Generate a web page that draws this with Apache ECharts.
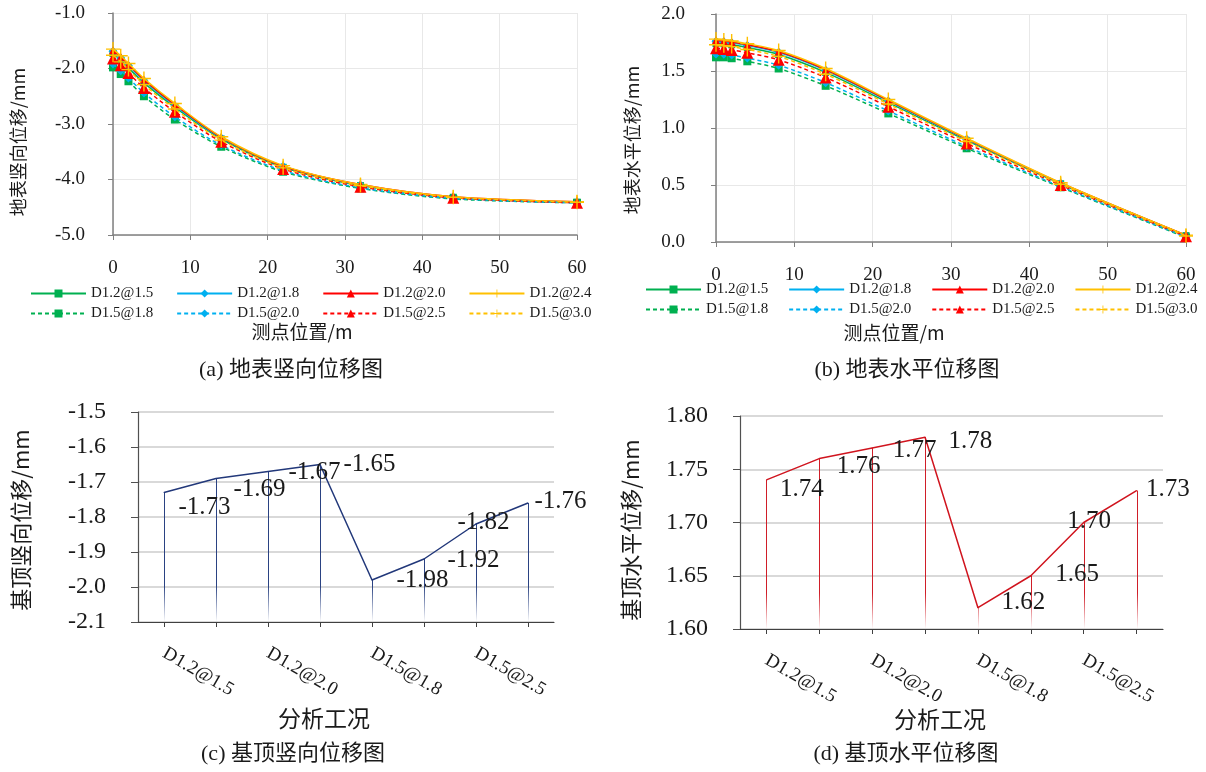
<!DOCTYPE html>
<html>
<head>
<meta charset="utf-8">
<script src="https://cdn.jsdelivr.net/npm/echarts@6/dist/echarts.min.js"></script>
<style>
  html, body { margin: 0; padding: 0; background: #fff; }
  #chart { width: 1206px; height: 772px; }
</style>
</head>
<body>
<div id="chart"></div>
<script>
// ---- data ----------------------------------------------------------------
// survey points behind the pit edge (m)
const stations = [0, 1, 2, 4, 8, 14, 22, 32, 44, 60];
// analysed cases: pile diameter @ spacing
const caseNames = ['D1.2@1.5', 'D1.2@1.8', 'D1.2@2.0', 'D1.2@2.4',
                   'D1.5@1.8', 'D1.5@2.0', 'D1.5@2.5', 'D1.5@3.0'];

// surface vertical displacement (mm)
const vert_D12_15 = [-1.73, -1.85, -1.99, -2.26, -2.70, -3.27, -3.78, -4.11, -4.32, -4.41];
const vert_D12_18 = [-1.69, -1.81, -1.95, -2.22, -2.67, -3.25, -3.76, -4.10, -4.32, -4.41];
const vert_D12_20 = [-1.67, -1.79, -1.93, -2.20, -2.65, -3.24, -3.76, -4.09, -4.31, -4.40];
const vert_D12_24 = [-1.65, -1.77, -1.91, -2.18, -2.63, -3.23, -3.75, -4.09, -4.31, -4.40];
const vert_D15_18 = [-1.98, -2.10, -2.23, -2.50, -2.92, -3.41, -3.86, -4.16, -4.35, -4.42];
const vert_D15_20 = [-1.92, -2.04, -2.17, -2.44, -2.87, -3.38, -3.84, -4.15, -4.34, -4.42];
const vert_D15_25 = [-1.82, -1.94, -2.08, -2.35, -2.78, -3.32, -3.81, -4.13, -4.33, -4.42];
const vert_D15_30 = [-1.76, -1.88, -2.02, -2.29, -2.73, -3.29, -3.79, -4.11, -4.32, -4.41];

// surface horizontal displacement (mm)
const horz_D12_15 = [1.74, 1.739, 1.730, 1.706, 1.645, 1.488, 1.223, 0.891, 0.511, 0.056];
const horz_D12_18 = [1.76, 1.757, 1.748, 1.724, 1.664, 1.506, 1.237, 0.901, 0.516, 0.058];
const horz_D12_20 = [1.77, 1.764, 1.755, 1.731, 1.671, 1.513, 1.243, 0.905, 0.518, 0.059];
const horz_D12_24 = [1.78, 1.773, 1.764, 1.740, 1.680, 1.522, 1.250, 0.910, 0.520, 0.060];
const horz_D15_18 = [1.62, 1.620, 1.612, 1.585, 1.522, 1.370, 1.128, 0.822, 0.480, 0.040];
const horz_D15_20 = [1.65, 1.648, 1.640, 1.613, 1.551, 1.398, 1.150, 0.838, 0.487, 0.044];
const horz_D15_25 = [1.70, 1.694, 1.685, 1.660, 1.598, 1.443, 1.187, 0.864, 0.499, 0.050];
const horz_D15_30 = [1.73, 1.722, 1.714, 1.689, 1.628, 1.472, 1.210, 0.881, 0.507, 0.053];

// displacement at the top of the retaining structure (mm)
const topVertical   = [-1.73, -1.69, -1.67, -1.65, -1.98, -1.92, -1.82, -1.76];
const topHorizontal = [1.74, 1.76, 1.77, 1.78, 1.62, 1.65, 1.70, 1.73];

// value-label nudges [dx, dy] (px) so the labels do not sit on the lines
const vertLabelShift = [[14, 15], [17, 11], [20, 1], [23, 0], [24, 0], [23, 1], [-19, -2], [6, -2]];
const horzLabelShift = [[13, 10], [17, 8], [20, 2], [23, 4], [23, -5], [24, -1], [-17, -1], [9, -1]];

// ---- styling -------------------------------------------------------------
const SERIF = "'Liberation Serif', 'Times New Roman', serif";
const CJK = "'Noto Sans CJK SC', sans-serif";
const MIXED = "'Liberation Serif', 'Noto Sans CJK SC', serif";
const PLUS = 'path://M9,0h2v9h9v2h-9v9h-2v-9h-9v-2h9z';
const TXT = '#1a1a1a';

const looks = [
  { color: '#00B050', symbol: 'rect',     size: 7,  dashed: false },
  { color: '#00B0F0', symbol: 'diamond',  size: 9,  dashed: false },
  { color: '#FF0000', symbol: 'triangle', size: 8,  dashed: false },
  { color: '#FFC000', symbol: PLUS,       size: 14, dashed: false },
  { color: '#00B050', symbol: 'rect',     size: 8,  dashed: true },
  { color: '#00B0F0', symbol: 'diamond',  size: 9,  dashed: true },
  { color: '#FF0000', symbol: 'triangle', size: 12, dashed: true },
  { color: '#FFC000', symbol: PLUS,       size: 14, dashed: true }
];

const vertSets = [vert_D12_15, vert_D12_18, vert_D12_20, vert_D12_24,
                  vert_D15_18, vert_D15_20, vert_D15_25, vert_D15_30];
const horzSets = [horz_D12_15, horz_D12_18, horz_D12_20, horz_D12_24,
                  horz_D15_18, horz_D15_20, horz_D15_25, horz_D15_30];

function surfaceSeries(sets, idx) {
  return sets.map((arr, k) => ({
    type: 'line',
    name: caseNames[k],
    xAxisIndex: idx,
    yAxisIndex: idx,
    data: stations.map((x, i) => [x, arr[i]]),
    smooth: 0.3,
    symbol: looks[k].symbol,
    symbolSize: looks[k].size,
    lineStyle: { color: looks[k].color, width: 1.5, type: looks[k].dashed ? [4, 3] : 'solid' },
    itemStyle: { color: looks[k].color },
    emphasis: { disabled: true },
    z: 2 + k
  }));
}

// thin stems from each point down to the axis, fading out at the bottom
function stemRenderer(rgb) {
  return function (params, api) {
    const p = api.coord([api.value(0), api.value(1)]);
    const x = Math.round(p[0]) + 0.5;
    const bottom = params.coordSys.y + params.coordSys.height;
    return {
      type: 'line',
      shape: { x1: x, y1: p[1], x2: x, y2: bottom },
      style: {
        lineWidth: 1,
        stroke: new echarts.graphic.LinearGradient(0, bottom - 36, 0, bottom, [
          { offset: 0, color: 'rgba(' + rgb + ',1)' },
          { offset: 1, color: 'rgba(' + rgb + ',0)' }
        ], true)
      }
    };
  };
}

function topSeries(values, shifts, idx, lineColor, stemRgb) {
  return [
    {
      type: 'custom',
      xAxisIndex: idx,
      yAxisIndex: idx,
      data: values.map((v, i) => [i, v]),
      encode: { x: 0, y: 1 },
      renderItem: stemRenderer(stemRgb),
      z: 1
    },
    {
      type: 'line',
      xAxisIndex: idx,
      yAxisIndex: idx,
      data: values.map((v, i) => ({ value: v, label: { offset: shifts[i] } })),
      symbol: 'circle',
      symbolSize: 1,
      lineStyle: { color: lineColor, width: 1.5 },
      itemStyle: { color: lineColor },
      emphasis: { disabled: true },
      label: {
        show: true,
        position: 'right',
        distance: 0,
        fontFamily: SERIF,
        fontSize: 25,
        color: TXT,
        formatter: (p) => p.value.toFixed(2)
      },
      z: 3
    }
  ];
}

function legendRow(names, left, top, gap) {
  return {
    data: names,
    left: left,
    top: top,
    orient: 'horizontal',
    itemWidth: 55,
    itemHeight: 10,
    itemGap: gap,
    padding: 0,
    selectedMode: false,
    textStyle: { fontFamily: SERIF, fontSize: 15, color: TXT }
  };
}

function valueAxisLine(color, width) {
  return { show: true, onZero: false, lineStyle: { color: color, width: width } };
}

const surfX = (idx, margin) => ({
  gridIndex: idx, type: 'value', min: 0, max: 60, interval: 10,
  axisLine: valueAxisLine('#808080', 1.5),
  axisTick: { show: true, length: 5, lineStyle: { color: '#808080' } },
  axisLabel: { margin: margin, fontFamily: SERIF, fontSize: 19, color: TXT },
  splitLine: { show: true, lineStyle: { color: '#e8e8e8', width: 1 } }
});

const surfY = (idx, min, max, interval, margin) => ({
  gridIndex: idx, type: 'value', min: min, max: max, interval: interval,
  axisLine: valueAxisLine('#808080', 1.5),
  axisTick: { show: true, length: 5, lineStyle: { color: '#808080' } },
  axisLabel: { margin: margin, fontFamily: SERIF, fontSize: 19, color: TXT, formatter: (v) => v.toFixed(1) },
  splitLine: { show: true, lineStyle: { color: '#e8e8e8', width: 1 } }
});

const caseX = (idx) => ({
  gridIndex: idx, type: 'category', data: caseNames, boundaryGap: true,
  axisLine: { show: true, onZero: false, lineStyle: { color: '#404040', width: 1.2 } },
  axisTick: { show: true, alignWithLabel: true, interval: 0, length: 5, lineStyle: { color: '#404040' } },
  axisLabel: { interval: 1, rotate: -30, margin: 30, fontFamily: SERIF, fontSize: 19, color: TXT },
  splitLine: { show: false }
});

const caseY = (idx, min, max, interval, digits) => ({
  gridIndex: idx, type: 'value', min: min, max: max, interval: interval,
  axisLine: valueAxisLine('#505050', 1.2),
  axisTick: { show: true, length: 7, lineStyle: { color: '#505050' } },
  axisLabel: { margin: 32, fontFamily: SERIF, fontSize: 24, color: TXT, formatter: (v) => v.toFixed(digits) },
  splitLine: { show: true, lineStyle: { color: '#d9d9d9', width: 2 } }
});

function label(text, x, y, size, family, rotated) {
  return {
    type: 'text', x: x, y: y, rotation: rotated ? Math.PI / 2 : 0, silent: true,
    style: { text: text, fontSize: size, fontFamily: family, fill: TXT, align: 'center', verticalAlign: 'middle' }
  };
}

const chart = echarts.init(document.getElementById('chart'), null, { renderer: 'canvas' });

chart.setOption({
  backgroundColor: '#ffffff',
  animation: false,
  grid: [
    { left: 113, top: 13, width: 464, height: 222, containLabel: false, outerBoundsMode: 'none' },
    { left: 716, top: 14, width: 470, height: 228, containLabel: false, outerBoundsMode: 'none' },
    { left: 138, top: 412, width: 416, height: 210, containLabel: false, outerBoundsMode: 'none' },
    { left: 740, top: 416, width: 423, height: 213, containLabel: false, outerBoundsMode: 'none' }
  ],
  xAxis: [surfX(0, 24), surfX(1, 24), caseX(2), caseX(3)],
  yAxis: [
    surfY(0, -5, -1, 1, 28),
    surfY(1, 0, 2, 0.5, 31),
    caseY(2, -2.1, -1.5, 0.1, 1),
    caseY(3, 1.6, 1.8, 0.05, 2)
  ],
  legend: [
    legendRow(caseNames.slice(0, 4), 30, 286, 23),
    legendRow(caseNames.slice(4), 30, 306, 23),
    legendRow(caseNames.slice(0, 4), 645, 282, 20),
    legendRow(caseNames.slice(4), 645, 302, 20)
  ],
  series: [
    ...surfaceSeries(vertSets, 0),
    ...surfaceSeries(horzSets, 1),
    ...topSeries(topVertical, vertLabelShift, 2, '#22387A', '42,66,130'),
    ...topSeries(topHorizontal, horzLabelShift, 3, '#D0141E', '208,30,40')
  ],
  graphic: [
    label('地表竖向位移/mm', 18, 142, 18, CJK, true),
    label('测点位置/m', 302, 332, 19, CJK, false),
    label('(a) 地表竖向位移图', 291, 370, 22, MIXED, false),

    label('地表水平位移/mm', 632, 140, 18, CJK, true),
    label('测点位置/m', 894, 333, 19, CJK, false),
    label('(b) 地表水平位移图', 907, 370, 22, MIXED, false),

    label('基顶竖向位移/mm', 21, 520, 22, CJK, true),
    label('分析工况', 324, 718, 23, CJK, false),
    label('(c) 基顶竖向位移图', 293, 754, 22, MIXED, false),

    label('基顶水平位移/mm', 631, 530, 22, CJK, true),
    label('分析工况', 940, 719, 23, CJK, false),
    label('(d) 基顶水平位移图', 906, 754, 22, MIXED, false)
  ]
});
</script>
</body>
</html>
